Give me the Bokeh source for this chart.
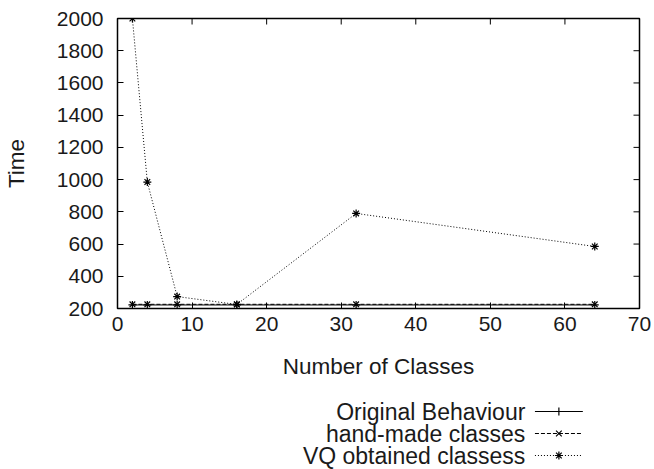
import math
from bokeh.plotting import figure
from bokeh.models import Range1d, FixedTicker, ColumnDataSource
from bokeh.layouts import column
from bokeh.embed import file_html
from bokeh.resources import INLINE
from bokeh.core.properties import value

# ---- data ----
classes = [2, 4, 8, 16, 32, 64]
original = [222, 222, 222, 222, 222, 222]
hand_made = [226, 226, 226, 226, 226, 226]
vq = [2000, 985, 274, 225, 790, 585]

x_ticks = [0, 10, 20, 30, 40, 50, 60, 70]
y_ticks = [200, 400, 600, 800, 1000, 1200, 1400, 1600, 1800, 2000]

series_names = ["Original Behaviour", "hand-made classes", "VQ obtained classess"]
series_dash = ["solid", "4 2", "1 2"]
series_marker = ["cross", "x", "asterisk"]
series_values = [original, hand_made, vq]

FONT = "Liberation Sans"
TICK_FS = "21px"
LABEL_FS = "22.5px"
LEGEND_FS = "23px"
TEXT_COLOR = "#1a1a1a"

p = figure(width=654, height=391, x_range=Range1d(0, 70), y_range=Range1d(200, 2000),
           output_backend="svg", toolbar_location=None,
           min_border_left=113, min_border_right=15, min_border_top=18, min_border_bottom=83)
p.grid.visible = False
p.background_fill_color = "white"
p.border_fill_color = "white"
p.outline_line_color = "black"
p.outline_line_width = 1.5

for ax in (p.xaxis[0], p.yaxis[0]):
    ax.major_label_text_font = FONT
    ax.major_label_text_font_size = TICK_FS
    ax.major_label_text_color = TEXT_COLOR
    ax.axis_label_text_font = FONT
    ax.axis_label_text_font_size = LABEL_FS
    ax.axis_label_text_font_style = "normal"
    ax.axis_label_text_color = TEXT_COLOR
    ax.major_tick_in = 6
    ax.major_tick_out = 0
    ax.minor_tick_line_color = None
    ax.axis_line_color = "black"
    ax.major_tick_line_color = "black"

p.xaxis.ticker = FixedTicker(ticks=x_ticks)
p.yaxis.ticker = FixedTicker(ticks=y_ticks)
p.xaxis.axis_label = "Number of Classes"
p.yaxis.axis_label = "Time"
p.xaxis.major_label_standoff = 8
p.yaxis.major_label_standoff = 14
p.xaxis.axis_label_standoff = 20
p.yaxis.axis_label_standoff = 25

# mirrored inward ticks on top and right edges (half of each dash is clipped by the frame)
p.scatter(x=x_ticks, y=[2000] * len(x_ticks), marker="dash", size=12, angle=math.pi / 2,
          line_color="black", line_width=1)
p.scatter(x=[70] * len(y_ticks), y=y_ticks, marker="dash", size=12, angle=0,
          line_color="black", line_width=1)

for name, dash, marker, vals in zip(series_names, series_dash, series_marker, series_values):
    src = ColumnDataSource(dict(x=classes, y=vals))
    p.line("x", "y", source=src, line_color="black", line_width=1, line_dash=dash)
    p.scatter("x", "y", source=src, marker=marker, size=8, line_color="black",
              fill_color="black", line_width=1.2)

# ---- legend (label left of sample, gnuplot style) ----
lg = figure(width=654, height=78, x_range=Range1d(0, 654), y_range=Range1d(78, 0),
            output_backend="svg", toolbar_location=None,
            min_border_left=0, min_border_right=0, min_border_top=0, min_border_bottom=0)
lg.axis.visible = False
lg.grid.visible = False
lg.outline_line_color = None

row_y = [20, 42, 64]
lg.text(x=[511] * 3, y=row_y, text=series_names, text_align="right", text_baseline="middle",
        text_font=value(FONT), text_font_size=LEGEND_FS, text_color=TEXT_COLOR)
for yy, dash, marker in zip(row_y, series_dash, series_marker):
    lg.line(x=[523, 583], y=[yy, yy], line_color="black", line_width=1, line_dash=dash)
    lg.scatter(x=[553], y=[yy], marker=marker, size=8, line_color="black",
               fill_color="black", line_width=1.2)

layout = column(p, lg, spacing=0)
open("out.html", "w").write(file_html(layout, INLINE))
